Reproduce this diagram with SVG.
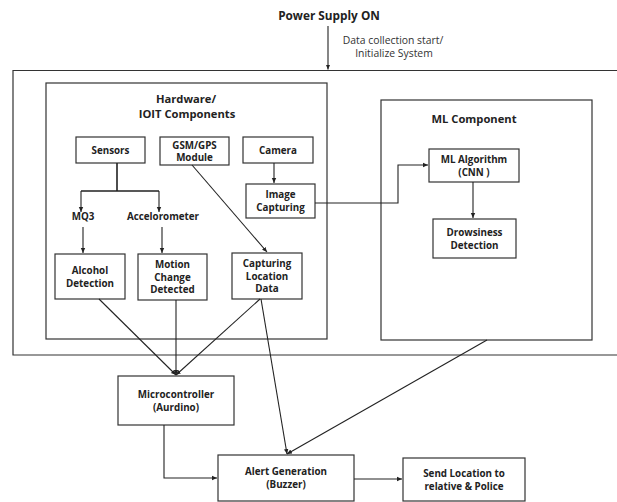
<svg xmlns="http://www.w3.org/2000/svg" width="617" height="502" viewBox="0 0 617 502">
<style>
.b{fill:#fff;stroke:#333;stroke-width:1.2}
.c{fill:none;stroke:#222;stroke-width:1.1}
.t{font-family:"Open Sans",Inter,"Liberation Sans",sans-serif;font-weight:700;font-size:9.8px;fill:#222;text-anchor:middle}
.h{font-size:11.2px}
.s{font-family:"Open Sans",Inter,"Liberation Sans",sans-serif;font-weight:400;font-size:10.4px;fill:#333;text-anchor:middle}
</style>
<defs>
<marker id="a" markerWidth="6" markerHeight="6" refX="5" refY="3" orient="auto" markerUnits="userSpaceOnUse">
<path d="M0,0.8 L5,3 L0,5.2 z" fill="#222"/>
</marker>
</defs>
<rect width="617" height="502" fill="#fff"/>
<g id="outer"><path d="M617,70.5 H13 V355 H617" fill="none" stroke="#333" stroke-width="1.2"/></g>
<g id="hardware"><rect class="b" x="46" y="83" width="281" height="256" style="fill:none"/><text class="t h" x="186" y="103">Hardware/</text><text class="t h" x="187" y="117.5">IOIT Components</text></g>
<g id="mlcomp"><rect class="b" x="381" y="100" width="211" height="240" style="fill:none"/><text class="t h" x="474" y="123">ML Component</text></g>
<g id="power"><text class="t" x="329" y="20" style="font-size:11.8px">Power Supply ON</text></g>
<g id="label"><text class="s" x="393" y="44">Data collection start/</text><text class="s" x="394" y="57">Initialize System</text></g>
<g id="sensors"><rect class="b" x="76" y="137" width="69" height="26"/><text class="t" x="110.5" y="153.5">Sensors</text></g>
<g id="gsm"><rect class="b" x="160" y="137" width="69" height="28"/><text class="t" x="194.5" y="148.5">GSM/GPS</text><text class="t" x="194.5" y="161">Module</text></g>
<g id="camera"><rect class="b" x="243" y="137" width="70" height="26"/><text class="t" x="278" y="153.5">Camera</text></g>
<g id="imgcap"><rect class="b" x="246" y="184" width="69" height="34"/><text class="t" x="280.5" y="198">Image</text><text class="t" x="280.5" y="210.5">Capturing</text></g>
<g id="mq3"><text class="t" x="83" y="219.5">MQ3</text></g>
<g id="accel"><text class="t" x="163" y="220">Accelorometer</text></g>
<g id="alcohol"><rect class="b" x="55" y="254" width="70" height="45"/><text class="t" x="90" y="274">Alcohol</text><text class="t" x="90" y="286.5">Detection</text></g>
<g id="motion"><rect class="b" x="138" y="254" width="69" height="46"/><text class="t" x="172.5" y="268">Motion</text><text class="t" x="172.5" y="280.5">Change</text><text class="t" x="172.5" y="293">Detected</text></g>
<g id="caploc"><rect class="b" x="232" y="253" width="70" height="46"/><text class="t" x="267" y="267">Capturing</text><text class="t" x="267" y="279.5">Location</text><text class="t" x="267" y="292">Data</text></g>
<g id="mlalg"><rect class="b" x="429" y="149" width="90" height="33"/><text class="t" x="474" y="163">ML Algorithm</text><text class="t" x="474" y="175.5">(CNN )</text></g>
<g id="drowsy"><rect class="b" x="433" y="219" width="83" height="39"/><text class="t" x="474.5" y="236">Drowsiness</text><text class="t" x="474.5" y="248.5">Detection</text></g>
<g id="micro"><rect class="b" x="118" y="376" width="116" height="49"/><text class="t" x="176" y="398">Microcontroller</text><text class="t" x="176" y="410.5">(Aurdino)</text></g>
<g id="alert"><rect class="b" x="218" y="455" width="136" height="46"/><text class="t" x="286" y="475">Alert Generation</text><text class="t" x="286" y="487.5">(Buzzer)</text></g>
<g id="send"><rect class="b" x="403" y="458" width="122" height="43"/><text class="t" x="464" y="477">Send Location to</text><text class="t" x="464" y="489.5">relative &amp; Police</text></g>
<g id="connectors">
<path class="c" d="M328,26 V69.5" marker-end="url(#a)"/>
<path class="c" d="M117,163 V191 M81,191 H159" style="stroke-width:1.6"/>
<path class="c" d="M81,191 V212" marker-end="url(#a)"/>
<path class="c" d="M159,191 V212" marker-end="url(#a)"/>
<path class="c" d="M83,227 V253" marker-end="url(#a)"/>
<path class="c" d="M162,227 V253" marker-end="url(#a)"/>
<path class="c" d="M192,165 L267,252" marker-end="url(#a)"/>
<path class="c" d="M274,163 V183" marker-end="url(#a)"/>
<path class="c" d="M315,203 H398 V165 H428" marker-end="url(#a)"/>
<path class="c" d="M473,182 V218" marker-end="url(#a)"/>
<path class="c" d="M99,299 L176,375" marker-end="url(#a)"/>
<path class="c" d="M176,300 V375" marker-end="url(#a)"/>
<path class="c" d="M260,299 L176,375" marker-end="url(#a)"/>
<path class="c" d="M261,299 L287,454" marker-end="url(#a)"/>
<path class="c" d="M487,340 L287,454" marker-end="url(#a)"/>
<path class="c" d="M164,425 V478 H217" marker-end="url(#a)"/>
<path class="c" d="M354,479 H402" marker-end="url(#a)"/>
</g>
</svg>
